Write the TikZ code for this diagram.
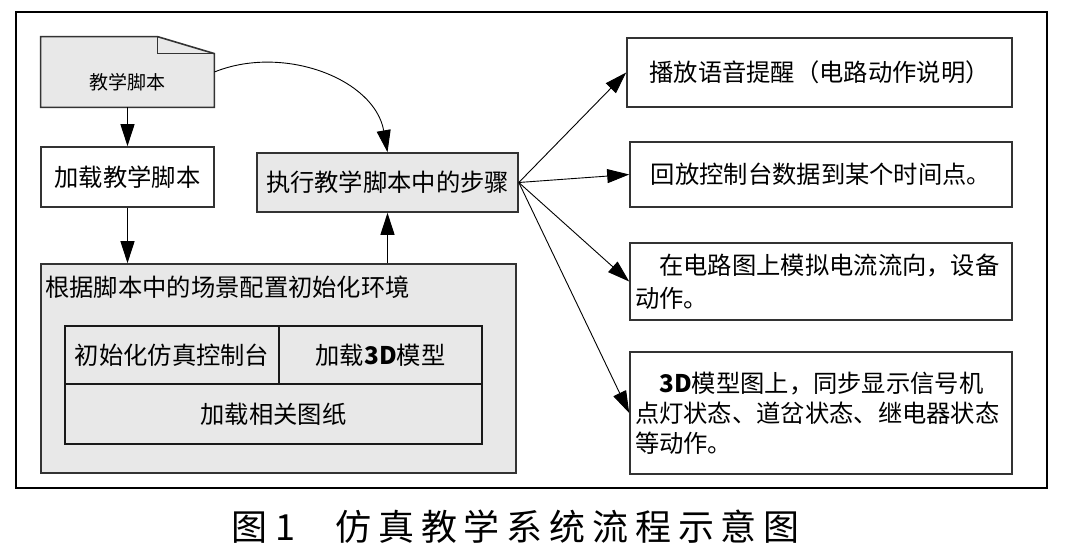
\documentclass[tikz,border=0pt]{standalone}
\usepackage{fontspec}
\setmainfont{Noto Sans CJK SC}
\newfontfamily\capfont[LetterSpace=19]{Noto Sans CJK SC}
\usetikzlibrary{arrows.meta}
\usetikzlibrary{calc}

\begin{document}
\begin{tikzpicture}[x=0.5pt,y=-0.5pt,
  box/.style={draw=black!80,line width=0.8pt,inner sep=0pt,
    font=\fontsize{12.15}{16}\selectfont},
  grey/.style={fill=black!9},
  cell/.style={box,grey,draw=black!90,line width=0.7pt},
  arr/.style={-{Triangle[length=11pt,width=7pt]},line width=0.6pt},
  thinarr/.style={arr,line width=0.45pt}]
  \useasboundingbox (0,0) rectangle (1065,550);
  \draw[line width=1.2pt] (16,12) rectangle (1047,488);
  % script document with folded corner
  \node[minimum width=86.5pt,minimum height=35pt,inner sep=0pt] (script) at (127.5,72) {};
  \draw[grey,draw=black!80,line width=0.8pt] (script.south west) -- (script.north west)
    -- ([xshift=-28.5pt]script.north east) -- ([yshift=-8.5pt]script.north east)
    -- (script.south east) -- cycle;
  \draw[draw=black!80,line width=0.8pt] ([xshift=-28.5pt]script.north east)
    -- ([xshift=-28.5pt,yshift=-8.5pt]script.north east) -- ([yshift=-8.5pt]script.north east);
  \node[font=\fontsize{9.5}{12}\selectfont] (scriptlabel) at (127,82) {教学脚本};
  \node[box,minimum width=86.5pt,minimum height=30pt] (load) at (127.5,177) {加载教学脚本};
  \node[box,grey,minimum width=130.5pt,minimum height=29.5pt] (step) at (387.5,182.5) {执行教学脚本中的步骤};
  % init environment
  \node[box,grey,minimum width=237.5pt,minimum height=104.5pt] (env) at (278.5,368.5) {};
  \node[anchor=west,inner sep=0pt,font=\fontsize{12.15}{16}\selectfont] (envtitle) at (45,287) {根据脚本中的场景配置初始化环境};
  \node[cell,minimum width=107pt,minimum height=29pt] (console) at (172,355) {初始化仿真控制台};
  \node[cell,minimum width=101.5pt,minimum height=29pt] (model3d) at (380.5,355) {加载\textbf{3D}模型};
  \node[cell,minimum width=208.5pt,minimum height=30pt] (drawings) at (273.5,414) {加载相关图纸};
  % right column
  \node[box,minimum width=192.5pt,minimum height=34.5pt] (voice) at (819.5,72.5) {播放语音提醒（电路动作说明）};
  \node[box,minimum width=191pt,minimum height=32.5pt] (replay) at (821,174.5) {回放控制台数据到某个时间点。};
  \node[box,minimum width=191pt,minimum height=38.5pt,text width=186pt,align=left,
    font=\fontsize{12.15}{16.5}\selectfont] (current) at (821,281.5)
    {\hspace{1em}在电路图上模拟电流流向，设备\\动作。};
  \node[box,minimum width=191pt,minimum height=61pt,text width=186pt,align=left,
    font=\fontsize{12.15}{15}\selectfont] (model) at (821,413)
    {\hspace{1em}\textbf{3D}模型图上，同步显示信号机\\点灯状态、道岔状态、继电器状态\\等动作。};
  % connectors
  \draw[arr] (script) -- (load);
  \draw[arr] (load.south) -- (load.south |- env.north);
  \draw[arr] (step.south |- env.north) -- (step.south);
  \draw[thinarr] (script.east) to[out=22,in=100] (step.north);
  \draw[thinarr] (step.east) -- (voice.west);
  \draw[thinarr] (step.east) -- (replay.west);
  \draw[thinarr] (step.east) -- (current.west);
  \draw[thinarr] (step.east) -- (model.west);
  \node[anchor=west,inner sep=0pt,font=\capfont\fontsize{18}{20}\selectfont] (caption) at (231,527)
    {图\hspace{4pt}1\hspace{20pt}仿真教学系统流程示意图};
\end{tikzpicture}
\end{document}
